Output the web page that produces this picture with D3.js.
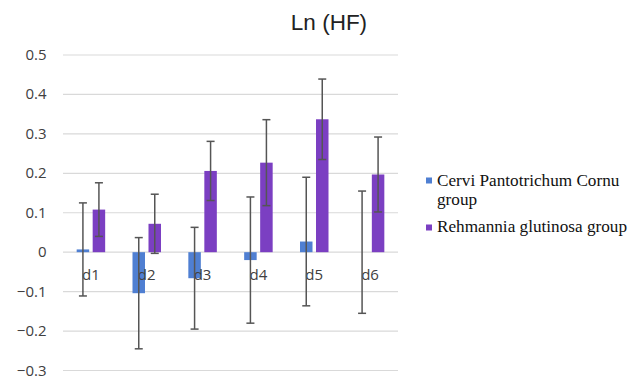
<!DOCTYPE html>
<html><head><meta charset="utf-8">
<script src="https://cdn.jsdelivr.net/npm/d3@7"></script>
<style>body{margin:0;background:#fff}</style>
</head><body>
<svg id="c" width="636" height="377"></svg>
<script>
const categories = ["d1","d2","d3","d4","d5","d6"];
const seriesNames = ["Cervi Pantotrichum Cornu group","Rehmannia glutinosa group"];
const cerviValues = [0.007,-0.104,-0.066,-0.020,0.027,0.000];
const cerviErrors = [0.118,0.141,0.129,0.160,0.163,0.155];
const rehmValues = [0.108,0.072,0.206,0.227,0.337,0.197];
const rehmErrors = [0.068,0.075,0.075,0.109,0.102,0.095];
const yTicks = [-0.3,-0.2,-0.1,0,0.1,0.2,0.3,0.4,0.5];
const colors = ["#4f7fd2","#7b3fc2"];

const svg = d3.select("#c");
const x0 = d3.scaleBand().domain(categories).range([63,398]).paddingInner(0).paddingOuter(0);
const y = d3.scaleLinear().domain([-0.3,0.5]).range([370.5,55]);
const barW = 12.5, gap = 3.5;
const sansFont = "'Open Sans', 'DejaVu Sans', sans-serif";

// gridlines
svg.append("g").selectAll("line").data(yTicks).join("line")
  .attr("x1",63).attr("x2",398).attr("y1",d=>y(d)).attr("y2",d=>y(d))
  .attr("stroke","#d9d9d9").attr("stroke-width",1.2);

// y axis labels
const yAxis = d3.axisLeft(y).tickValues(yTicks).tickSize(0).tickPadding(0)
  .tickFormat(d=> d===0 ? "0" : d3.format(".1f")(d));
const ga = svg.append("g").attr("transform","translate(46.5,0)").call(yAxis);
ga.select(".domain").remove();
ga.selectAll("text").attr("font-family",sansFont).attr("font-size",15).attr("fill","#404040").attr("dy","0.3em");

const series = [
  {vals:cerviValues, errs:cerviErrors, color:colors[0], off:-(gap/2+barW)},
  {vals:rehmValues, errs:rehmErrors, color:colors[1], off:gap/2}
];
series.forEach(s=>{
  const g = svg.append("g");
  g.selectAll("rect").data(categories).join("rect")
    .attr("x",(c)=>x0(c)+x0.bandwidth()/2+s.off)
    .attr("width",barW)
    .attr("y",(c,i)=>y(Math.max(0,s.vals[i])))
    .attr("height",(c,i)=>Math.abs(y(s.vals[i])-y(0)))
    .attr("fill",s.color);
});

// category labels
svg.append("g").selectAll("text").data(categories).join("text")
  .attr("x",c=>x0(c)+x0.bandwidth()/2).attr("y",y(0)+28)
  .attr("text-anchor","middle")
  .attr("font-family",sansFont).attr("font-size",15).attr("fill","#404040")
  .text(c=>c);

// error bars
series.forEach(s=>{
  const g = svg.append("g").attr("stroke","#555").attr("stroke-width",1.5);
  categories.forEach((c,i)=>{
    const cx = x0(c)+x0.bandwidth()/2+s.off+barW/2;
    const top = y(s.vals[i]+s.errs[i]), bot = y(s.vals[i]-s.errs[i]);
    g.append("line").attr("x1",cx).attr("x2",cx).attr("y1",top).attr("y2",bot);
    g.append("line").attr("x1",cx-4).attr("x2",cx+4).attr("y1",top).attr("y2",top);
    g.append("line").attr("x1",cx-4).attr("x2",cx+4).attr("y1",bot).attr("y2",bot);
  });
});

// title
svg.append("text").attr("x",329).attr("y",30).attr("text-anchor","middle")
  .attr("font-family","'Liberation Sans', Arial, sans-serif").attr("font-size",22.5).attr("fill","#222")
  .text("Ln (HF)");

// legend
const lg = svg.append("g").attr("font-family","'Liberation Serif', 'Times New Roman', serif").attr("font-size",17.2).attr("fill","#111");
lg.append("rect").attr("x",426).attr("y",177.5).attr("width",6).attr("height",6).attr("fill",colors[0]);
const t1 = lg.append("text").attr("x",437).attr("y",186);
t1.append("tspan").attr("x",437).text("Cervi Pantotrichum Cornu");
t1.append("tspan").attr("x",437).attr("dy",18.5).text("group");
lg.append("rect").attr("x",426).attr("y",224.5).attr("width",6).attr("height",6).attr("fill",colors[1]);
lg.append("text").attr("x",437).attr("y",232).text(seriesNames[1]);
</script>
</body></html>
